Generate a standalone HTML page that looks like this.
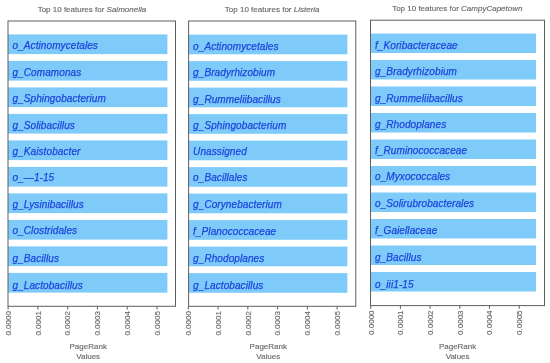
<!DOCTYPE html>
<html><head><meta charset="utf-8"><style>
html,body{margin:0;padding:0;background:#fff;}
body{width:550px;height:363px;overflow:hidden;}
svg{display:block;will-change:transform;font-family:"Liberation Sans",sans-serif;}
.lb{font-style:italic;font-size:10px;letter-spacing:0.09px;fill:#1e46dc;stroke:#1e46dc;stroke-width:0.25px;}
.ti{font-size:8px;fill:#666666;stroke:#707070;stroke-width:0.15px;text-anchor:middle;}
.tl{font-size:8px;fill:#666666;stroke:#707070;stroke-width:0.15px;}
.xl{font-size:8px;fill:#666666;stroke:#707070;stroke-width:0.15px;text-anchor:middle;}
</style></head><body>
<svg width="550" height="363" viewBox="0 0 550 363">
<rect width="550" height="363" fill="#fff"/>

<rect x="8.00" y="34.40" width="159.40" height="19.70" fill="#7ecbf9"/>
<rect x="8.00" y="60.90" width="159.40" height="19.70" fill="#7ecbf9"/>
<rect x="8.00" y="87.40" width="159.40" height="19.70" fill="#7ecbf9"/>
<rect x="8.00" y="113.90" width="159.40" height="19.70" fill="#7ecbf9"/>
<rect x="8.00" y="140.40" width="159.40" height="19.70" fill="#7ecbf9"/>
<rect x="8.00" y="166.90" width="159.40" height="19.70" fill="#7ecbf9"/>
<rect x="8.00" y="193.40" width="159.40" height="19.70" fill="#7ecbf9"/>
<rect x="8.00" y="219.90" width="159.40" height="19.70" fill="#7ecbf9"/>
<rect x="8.00" y="246.40" width="159.40" height="19.70" fill="#7ecbf9"/>
<rect x="8.00" y="272.90" width="159.40" height="19.70" fill="#7ecbf9"/>
<rect x="8.00" y="21.00" width="167.50" height="285.30" fill="none" stroke="#5e5e5e" stroke-width="1.00"/>
<text class="lb" x="12.50" y="49.40">o_Actinomycetales</text>
<text class="lb" x="12.50" y="75.90">g_Comamonas</text>
<text class="lb" x="12.50" y="102.30">g_Sphingobacterium</text>
<text class="lb" x="12.50" y="128.80">g_Solibacillus</text>
<text class="lb" x="12.50" y="154.50">g_Kaistobacter</text>
<text class="lb" x="12.50" y="181.10">o_—1-15</text>
<text class="lb" x="12.50" y="207.50">g_Lysinibacillus</text>
<text class="lb" x="12.50" y="234.30">o_Clostridales</text>
<text class="lb" x="12.50" y="261.90">g_Bacillus</text>
<text class="lb" x="12.50" y="288.70">g_Lactobacillus</text>
<text class="ti" x="91.90" y="11.50">Top 10 features for <tspan font-style="italic">Salmonella</tspan></text>
<line x1="8.10" y1="306.30" x2="8.10" y2="309.50" stroke="#5e5e5e" stroke-width="1.00"/>
<text class="tl" transform="translate(10.90 335.60) rotate(-90)" x="0" y="0">0.0000</text>
<line x1="37.88" y1="306.30" x2="37.88" y2="309.50" stroke="#5e5e5e" stroke-width="1.00"/>
<text class="tl" transform="translate(40.68 335.60) rotate(-90)" x="0" y="0">0.0001</text>
<line x1="67.66" y1="306.30" x2="67.66" y2="309.50" stroke="#5e5e5e" stroke-width="1.00"/>
<text class="tl" transform="translate(70.46 335.60) rotate(-90)" x="0" y="0">0.0002</text>
<line x1="97.44" y1="306.30" x2="97.44" y2="309.50" stroke="#5e5e5e" stroke-width="1.00"/>
<text class="tl" transform="translate(100.24 335.60) rotate(-90)" x="0" y="0">0.0003</text>
<line x1="127.22" y1="306.30" x2="127.22" y2="309.50" stroke="#5e5e5e" stroke-width="1.00"/>
<text class="tl" transform="translate(130.02 335.60) rotate(-90)" x="0" y="0">0.0004</text>
<line x1="157.00" y1="306.30" x2="157.00" y2="309.50" stroke="#5e5e5e" stroke-width="1.00"/>
<text class="tl" transform="translate(159.80 335.60) rotate(-90)" x="0" y="0">0.0005</text>
<text class="xl" x="88.20" y="349.2">PageRank</text>
<text class="xl" x="88.20" y="358.7">Values</text>
<rect x="188.60" y="34.60" width="158.80" height="19.70" fill="#7ecbf9"/>
<rect x="188.60" y="61.10" width="158.80" height="19.70" fill="#7ecbf9"/>
<rect x="188.60" y="87.60" width="158.80" height="19.70" fill="#7ecbf9"/>
<rect x="188.60" y="114.10" width="158.80" height="19.70" fill="#7ecbf9"/>
<rect x="188.60" y="140.60" width="158.80" height="19.70" fill="#7ecbf9"/>
<rect x="188.60" y="167.10" width="158.80" height="19.70" fill="#7ecbf9"/>
<rect x="188.60" y="193.60" width="158.80" height="19.70" fill="#7ecbf9"/>
<rect x="188.60" y="220.10" width="158.80" height="19.70" fill="#7ecbf9"/>
<rect x="188.60" y="246.60" width="158.80" height="19.70" fill="#7ecbf9"/>
<rect x="188.60" y="273.10" width="158.80" height="19.70" fill="#7ecbf9"/>
<rect x="188.60" y="21.00" width="167.20" height="285.30" fill="none" stroke="#5e5e5e" stroke-width="1.00"/>
<text class="lb" x="193.10" y="49.60">o_Actinomycetales</text>
<text class="lb" x="193.10" y="76.10">g_Bradyrhizobium</text>
<text class="lb" x="193.10" y="102.50">g_Rummeliibacillus</text>
<text class="lb" x="193.10" y="129.00">g_Sphingobacterium</text>
<text class="lb" x="193.10" y="154.70">Unassigned</text>
<text class="lb" x="193.10" y="181.30">o_Bacillales</text>
<text class="lb" x="193.10" y="207.70">g_Corynebacterium</text>
<text class="lb" x="193.10" y="234.50">f_Planococcaceae</text>
<text class="lb" x="193.10" y="262.10">g_Rhodoplanes</text>
<text class="lb" x="193.10" y="288.90">g_Lactobacillus</text>
<text class="ti" x="272.20" y="11.50">Top 10 features for <tspan font-style="italic">Listeria</tspan></text>
<line x1="188.30" y1="306.30" x2="188.30" y2="309.50" stroke="#5e5e5e" stroke-width="1.00"/>
<text class="tl" transform="translate(191.10 335.60) rotate(-90)" x="0" y="0">0.0000</text>
<line x1="218.06" y1="306.30" x2="218.06" y2="309.50" stroke="#5e5e5e" stroke-width="1.00"/>
<text class="tl" transform="translate(220.86 335.60) rotate(-90)" x="0" y="0">0.0001</text>
<line x1="247.82" y1="306.30" x2="247.82" y2="309.50" stroke="#5e5e5e" stroke-width="1.00"/>
<text class="tl" transform="translate(250.62 335.60) rotate(-90)" x="0" y="0">0.0002</text>
<line x1="277.58" y1="306.30" x2="277.58" y2="309.50" stroke="#5e5e5e" stroke-width="1.00"/>
<text class="tl" transform="translate(280.38 335.60) rotate(-90)" x="0" y="0">0.0003</text>
<line x1="307.34" y1="306.30" x2="307.34" y2="309.50" stroke="#5e5e5e" stroke-width="1.00"/>
<text class="tl" transform="translate(310.14 335.60) rotate(-90)" x="0" y="0">0.0004</text>
<line x1="337.10" y1="306.30" x2="337.10" y2="309.50" stroke="#5e5e5e" stroke-width="1.00"/>
<text class="tl" transform="translate(339.90 335.60) rotate(-90)" x="0" y="0">0.0005</text>
<text class="xl" x="268.30" y="349.2">PageRank</text>
<text class="xl" x="268.30" y="358.7">Values</text>
<rect x="370.50" y="33.50" width="165.50" height="19.50" fill="#7ecbf9"/>
<rect x="370.50" y="60.00" width="165.50" height="19.50" fill="#7ecbf9"/>
<rect x="370.50" y="86.50" width="165.50" height="19.50" fill="#7ecbf9"/>
<rect x="370.50" y="113.00" width="165.50" height="19.50" fill="#7ecbf9"/>
<rect x="370.50" y="139.50" width="165.50" height="19.50" fill="#7ecbf9"/>
<rect x="370.50" y="166.00" width="165.50" height="19.50" fill="#7ecbf9"/>
<rect x="370.50" y="192.50" width="165.50" height="19.50" fill="#7ecbf9"/>
<rect x="370.50" y="219.00" width="165.50" height="19.50" fill="#7ecbf9"/>
<rect x="370.50" y="245.50" width="165.50" height="19.50" fill="#7ecbf9"/>
<rect x="370.50" y="272.00" width="165.50" height="19.50" fill="#7ecbf9"/>
<rect x="370.50" y="20.20" width="174.00" height="285.40" fill="none" stroke="#5e5e5e" stroke-width="1.00"/>
<text class="lb" x="375.00" y="49.30">f_Koribacteraceae</text>
<text class="lb" x="375.00" y="75.26">g_Bradyrhizobium</text>
<text class="lb" x="375.00" y="101.62">g_Rummeliibacillus</text>
<text class="lb" x="375.00" y="128.18">g_Rhodoplanes</text>
<text class="lb" x="375.00" y="153.74">f_Ruminococcaceae</text>
<text class="lb" x="375.00" y="180.30">o_Myxococcales</text>
<text class="lb" x="375.00" y="207.06">o_Solirubrobacterales</text>
<text class="lb" x="375.00" y="233.62">f_Gaiellaceae</text>
<text class="lb" x="375.00" y="260.88">g_Bacillus</text>
<text class="lb" x="375.00" y="287.74">o_iii1-15</text>
<text class="ti" x="457.30" y="11.00">Top 10 features for <tspan font-style="italic">CampyCapetown</tspan></text>
<line x1="370.70" y1="305.60" x2="370.70" y2="308.80" stroke="#5e5e5e" stroke-width="1.00"/>
<text class="tl" transform="translate(373.50 334.90) rotate(-90)" x="0" y="0">0.0000</text>
<line x1="400.40" y1="305.60" x2="400.40" y2="308.80" stroke="#5e5e5e" stroke-width="1.00"/>
<text class="tl" transform="translate(403.20 334.90) rotate(-90)" x="0" y="0">0.0001</text>
<line x1="430.10" y1="305.60" x2="430.10" y2="308.80" stroke="#5e5e5e" stroke-width="1.00"/>
<text class="tl" transform="translate(432.90 334.90) rotate(-90)" x="0" y="0">0.0002</text>
<line x1="459.80" y1="305.60" x2="459.80" y2="308.80" stroke="#5e5e5e" stroke-width="1.00"/>
<text class="tl" transform="translate(462.60 334.90) rotate(-90)" x="0" y="0">0.0003</text>
<line x1="489.50" y1="305.60" x2="489.50" y2="308.80" stroke="#5e5e5e" stroke-width="1.00"/>
<text class="tl" transform="translate(492.30 334.90) rotate(-90)" x="0" y="0">0.0004</text>
<line x1="519.20" y1="305.60" x2="519.20" y2="308.80" stroke="#5e5e5e" stroke-width="1.00"/>
<text class="tl" transform="translate(522.00 334.90) rotate(-90)" x="0" y="0">0.0005</text>
<text class="xl" x="457.60" y="349.2">PageRank</text>
<text class="xl" x="457.60" y="358.7">Values</text>
</svg>
</body></html>
